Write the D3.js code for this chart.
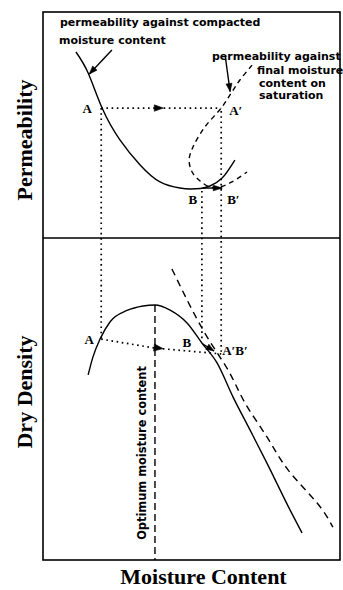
<!DOCTYPE html>
<html><head><meta charset="utf-8">
<script src="https://cdn.jsdelivr.net/npm/d3@7"></script>
<style>body{margin:0;background:#fff}svg{display:block}</style>
</head><body>
<svg id="c" width="343" height="590"></svg>
<script>
// ---- data (moisture content 0-100, permeability 0-100, dry density 0-100) ----
const permCompactedX = [11.1, 15.2, 19.9, 25.9, 32.7, 39.4, 46.1, 49.5, 53.0, 56.2, 60.3, 64.6];
const permCompactedY = [82.3, 73.0, 57.5, 43.4, 32.3, 24.8, 22.1, 21.7, 21.9, 23.0, 26.5, 34.5];
const permSaturatedX = [70.4, 66.3, 63.6, 60.3, 54.5, 50.5, 49.2, 50.2, 52.9, 56.2, 59.6, 63.6, 68.7];
const permSaturatedY = [76.5, 69.9, 64.6, 58.0, 49.1, 40.3, 34.5, 29.2, 25.2, 22.6, 22.6, 24.8, 29.2];
const densityX = [15.2, 16.8, 19.2, 22.6, 28.3, 33.7, 37.7, 42.8, 48.5, 53.5, 58.6, 64.0, 69.7, 75.4, 83.2, 87.2];
const densityY = [57.5, 63.0, 68.6, 74.0, 77.5, 78.9, 79.2, 77.6, 73.6, 67.4, 61.2, 50.6, 40.4, 30.1, 15.5, 8.4];
const zavX = [43.4, 53.9, 62.3, 68.0, 75.4, 82.5, 92.3, 97.6];
const zavY = [90.4, 71.4, 59.0, 48.8, 38.2, 28.0, 17.7, 10.2];
const optimumX = 37.7, optimumY = 79.2;
// key points: A (compacted), A' (saturated), B, B'
const ptA = {x: 19.6, perm: 57.5, dens: 68.6};
const ptAp = {x: 60.0, perm: 57.5, dens: 64.0};
const ptB = {x: 53.5, perm: 21.7, dens: 67.4};
const ptBp = {x: 60.0, perm: 22.1, dens: 64.0};
const midDens = 65.8;

const svg = d3.select("#c");
const L = 43, R = 340, T = 12, M = 238, Bt = 560;
const x = d3.scaleLinear().domain([0, 100]).range([L, R]);
const yP = d3.scaleLinear().domain([0, 100]).range([M, T]);
const yD = d3.scaleLinear().domain([0, 100]).range([Bt, M]);

// frame
svg.append("rect").attr("x", L).attr("y", T).attr("width", R - L).attr("height", Bt - T)
  .attr("fill", "none").attr("stroke", "#000").attr("stroke-width", 1.6);
svg.append("line").attr("x1", L).attr("x2", R).attr("y1", M).attr("y2", M)
  .attr("stroke", "#000").attr("stroke-width", 1.6);

function path(xs, ys, ys2, crv) {
  return d3.line().curve(crv)(xs.map((v, i) => [x(v), ys2(ys[i])]));
}
const g = svg.append("g").attr("fill", "none").attr("stroke", "#000");

// dotted guide lines
function dl(x1, y1, x2, y2) {
  return g.append("line").attr("x1", x1).attr("y1", y1).attr("x2", x2).attr("y2", y2)
    .attr("stroke-width", 1.7).attr("stroke-dasharray", "1.6 3.6");
}
dl(x(ptA.x), yP(ptA.perm), x(ptAp.x), yP(ptAp.perm));
dl(x(ptA.x), yP(ptA.perm), x(ptA.x), yD(ptA.dens));
dl(x(ptB.x), yP(ptB.perm) + 2, x(ptB.x), yD(ptB.dens) - 4);
dl(x(ptAp.x), yP(ptAp.perm) + 3, x(ptAp.x), yD(ptAp.dens) - 2);
g.append("path").attr("stroke-width", 1.7).attr("stroke-dasharray", "1.6 3.6")
  .attr("d", d3.line()([[x(ptA.x), yD(ptA.dens)], [x(optimumX), yD(midDens)], [x(ptAp.x), yD(ptAp.dens)]]));

// curves
g.append("path").attr("d", path(permCompactedX, permCompactedY, yP, d3.curveNatural)).attr("stroke-width", 1.4);
g.append("path").attr("d", path(permSaturatedX, permSaturatedY, yP, d3.curveCatmullRom.alpha(0.5))).attr("stroke-width", 1.4)
  .attr("stroke-dasharray", "5 4");
g.append("path").attr("d", path(densityX, densityY, yD, d3.curveMonotoneX)).attr("stroke-width", 1.4);
g.append("path").attr("d", path(zavX, zavY, yD, d3.curveNatural)).attr("stroke-width", 1.4)
  .attr("stroke-dasharray", "7 5");
g.append("line").attr("x1", x(optimumX)).attr("x2", x(optimumX))
  .attr("y1", yD(optimumY)).attr("y2", Bt).attr("stroke-width", 1.4).attr("stroke-dasharray", "7 4");

// arrowheads
function head(px, py, ang, len = 9, w = 3.2) {
  const c = Math.cos(ang), s = Math.sin(ang);
  const bx = px - c * len, by = py - s * len;
  svg.append("path").attr("fill", "#000").attr("stroke", "#000").attr("stroke-width", 0.6)
    .attr("d", `M${px},${py}L${bx - s * w},${by + c * w}L${bx + s * w},${by - c * w}Z`);
}
head(x(40.5), yP(ptA.perm), 0);
svg.append("line").attr("x1", x(ptB.x) + 1).attr("x2", x(ptBp.x) + 1)
  .attr("y1", yP(ptBp.perm)).attr("y2", yP(ptBp.perm)).attr("stroke", "#000").attr("stroke-width", 1.4);
head(x(ptBp.x) + 1, yP(ptBp.perm), 0, 9, 2.8);
{
  const ang = Math.atan2(yD(ptAp.dens) - yD(ptA.dens), x(ptAp.x) - x(ptA.x));
  head(x(optimumX) + 8, yD(midDens) + 0.5, ang, 9, 3.6);
}
// B -> A'B' arrow
{
  const x1 = x(ptB.x) + 1, y1 = yD(ptB.dens) + 1, x2 = x(57.6), y2 = yD(64.9);
  svg.append("line").attr("x1", x1).attr("y1", y1).attr("x2", x2).attr("y2", y2).attr("stroke", "#000").attr("stroke-width", 1.3);
  head(x2, y2, Math.atan2(y2 - y1, x2 - x1), 8, 3);
}
// annotation pointers
function pointer(x1, y1, x2, y2) {
  svg.append("line").attr("x1", x1).attr("y1", y1).attr("x2", x2).attr("y2", y2).attr("stroke", "#000").attr("stroke-width", 1.4);
  head(x2, y2, Math.atan2(y2 - y1, x2 - x1), 8, 3);
}
pointer(x(23.2), yP(83.2), x(15.6), yP(72.6));
pointer(x(61.4), yP(80.1), x(63.0), yP(64.8));

// annotation text
const ann = svg.append("g").attr("font-family", "DejaVu Sans, sans-serif").attr("font-weight", "bold")
  .attr("font-size", 11).attr("fill", "#000");
[["permeability against compacted", 60, 26], ["moisture content", 59, 44],
 ["permeability against", 212, 60], ["final moisture", 257, 74],
 ["content on", 259, 86.5], ["saturation", 259, 99]].forEach(([t, tx, ty]) =>
  ann.append("text").attr("x", tx).attr("y", ty).text(t));
svg.append("text").attr("transform", `translate(${x(optimumX) - 9},${453}) rotate(-90)`)
  .attr("text-anchor", "middle").attr("font-family", "DejaVu Sans, sans-serif")
  .attr("font-weight", "bold").attr("font-size", 11.4).text("Optimum moisture content");

// point labels
const lab = svg.append("g").attr("font-family", "Liberation Serif, serif").attr("font-weight", "bold")
  .attr("font-size", 13).attr("fill", "#000");
function lt(t, px, py, anchor = "middle") { lab.append("text").attr("x", px).attr("y", py).attr("text-anchor", anchor).text(t); }
lt("A", x(ptA.x) - 14, yP(ptA.perm) + 5);
lt("A\u2032", x(ptAp.x) + 8, yP(ptAp.perm) + 7, "start");
lt("B", x(ptB.x) - 9, yP(ptB.perm) + 15);
lt("B\u2032", x(ptBp.x) + 6, yP(ptB.perm) + 15, "start");
lt("A", x(ptA.x) - 12, yD(ptA.dens) + 5);
lt("B", x(ptB.x) - 15, yD(ptB.dens) + 4);
lt("A\u2032B\u2032", x(ptAp.x) + 1, yD(ptAp.dens) + 1, "start");

// axis titles
const ax = svg.append("g").attr("font-family", "Liberation Serif, serif").attr("font-weight", "bold")
  .attr("font-size", 22).attr("fill", "#000").attr("text-anchor", "middle");
ax.append("text").attr("transform", `translate(32,${(T + M) / 2 + 15}) rotate(-90)`).text("Permeability");
ax.append("text").attr("transform", `translate(32,392) rotate(-90)`).text("Dry Density");
ax.append("text").attr("x", (L + R) / 2 + 12).attr("y", 584).text("Moisture Content");
</script>
</body></html>
